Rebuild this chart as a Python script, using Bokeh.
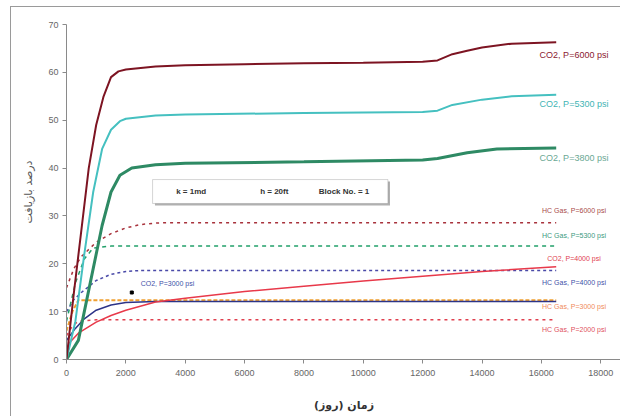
from bokeh.plotting import figure
from bokeh.models import Range1d, BoxAnnotation, Label, FixedTicker
from bokeh.embed import file_html
from bokeh.resources import INLINE

# ---------------- data ----------------
co2_6000_x = [0, 250, 500, 750, 1000, 1250, 1500, 1750, 2000, 3000, 4000, 6000, 8000, 10000, 12000, 12500, 13000, 13500, 14000, 15000, 16500]
co2_6000_y = [0, 14, 27, 40, 49, 55, 59, 60.2, 60.6, 61.2, 61.5, 61.7, 61.9, 62.0, 62.2, 62.5, 63.8, 64.5, 65.2, 66.0, 66.3]

co2_5300_x = [0, 300, 600, 900, 1200, 1500, 1800, 2000, 3000, 4000, 8000, 12000, 12500, 13000, 14000, 15000, 16500]
co2_5300_y = [0, 8, 22, 35, 44, 48, 49.8, 50.3, 51.0, 51.2, 51.5, 51.7, 52.0, 53.2, 54.3, 55.0, 55.3]

co2_3800_x = [0, 400, 800, 1200, 1500, 1800, 2200, 3000, 4000, 8000, 12000, 12500, 13500, 14500, 16500]
co2_3800_y = [0, 4, 16, 28, 35, 38.5, 40, 40.7, 41.0, 41.3, 41.7, 42.0, 43.2, 44.0, 44.2]

hc_6000_x = [0, 250, 500, 1000, 1500, 2000, 2500, 3000, 3500, 16500]
hc_6000_y = [15, 19, 21.5, 24.5, 26.3, 27.5, 28.2, 28.5, 28.6, 28.6]

hc_5300_x = [0, 300, 600, 900, 1500, 16500]
hc_5300_y = [8, 16, 21, 23.3, 23.7, 23.7]

hc_4000_x = [0, 250, 500, 1000, 1500, 2000, 2500, 16500]
hc_4000_y = [10, 12.5, 14, 16.5, 17.8, 18.4, 18.6, 18.6]

co2_4000_x = [0, 100, 400, 1000, 1500, 2000, 3000, 4000, 6000, 8000, 10000, 12000, 14000, 16500]
co2_4000_y = [0, 3.5, 5.5, 7.8, 9.2, 10.3, 12.0, 12.8, 14.2, 15.3, 16.4, 17.4, 18.4, 19.4]

hc_3000_x = [0, 200, 400, 16500]
hc_3000_y = [6, 10, 12.4, 12.4]

co2_3000_x = [0, 300, 600, 1000, 1500, 2000, 3000, 16500]
co2_3000_y = [4, 6.5, 8.5, 10.3, 11.4, 11.9, 12.1, 12.1]

hc_2000_x = [0, 200, 400, 1000, 16500]
hc_2000_y = [5, 7, 8, 8.3, 8.3]

x_ticks = [0, 2000, 4000, 6000, 8000, 10000, 12000, 14000, 16000, 18000]
y_ticks = [0, 10, 20, 30, 40, 50, 60, 70]

labels = ["CO2, P=6000 psi", "CO2, P=5300 psi", "CO2, P=3800 psi",
          "HC Gas, P=6000 psi", "HC Gas, P=5300 psi", "CO2, P=4000 psi",
          "HC Gas, P=4000 psi", "HC Gas, P=3000 psi", "HC Gas, P=2000 psi"]
box_texts = ["k = 1md", "h = 20ft", "Block No. = 1"]

# ---------------- figure ----------------
p = figure(width=610, height=410, output_backend="svg", toolbar_location=None,
           x_range=Range1d(0, 18700), y_range=Range1d(0, 70),
           min_border_left=55, min_border_right=0, min_border_top=17, min_border_bottom=58)
p.styles = {"border-left": "1px solid #9a9a9a", "border-top": "1px solid #9a9a9a",
            "margin-left": "10px", "margin-top": "6px"}
p.outline_line_color = None
p.background_fill_color = "white"

p.xgrid.visible = False
p.ygrid.ticker = FixedTicker(ticks=[70])
p.ygrid.grid_line_color = "#cfcfcf"

for ax in (p.xaxis[0], p.yaxis[0]):
    ax.axis_line_color = "#8a8a8a"
    ax.major_tick_line_color = "#8a8a8a"
    ax.major_tick_out = 4
    ax.major_tick_in = 0
    ax.minor_tick_line_color = None
    ax.major_label_text_font = "Liberation Sans"
    ax.major_label_text_font_size = "9px"
    ax.major_label_text_color = "#666666"

p.xaxis.ticker = FixedTicker(ticks=x_ticks)
p.yaxis.ticker = FixedTicker(ticks=y_ticks)
p.xaxis.major_label_standoff = 6
p.yaxis.major_label_standoff = 4

p.xaxis.axis_label = "زمان (روز)"
p.xaxis.axis_label_text_font = "DejaVu Sans"
p.xaxis.axis_label_text_font_size = "11px"
p.xaxis.axis_label_text_font_style = "bold"
p.xaxis.axis_label_text_color = "#333333"
p.xaxis.axis_label_standoff = 20

p.yaxis.axis_label = "درصد بازیافت"
p.yaxis.axis_label_text_font = "DejaVu Sans"
p.yaxis.axis_label_text_font_size = "11px"
p.yaxis.axis_label_text_font_style = "normal"
p.yaxis.axis_label_text_color = "#555555"
p.yaxis.axis_label_standoff = 10

# ---------------- series ----------------
p.line(hc_2000_x, hc_2000_y, line_color="#e0404f", line_width=1.5, line_dash="3 4")
p.line(hc_3000_x, hc_3000_y, line_color="#f0a030", line_width=2, line_dash="4 2")
p.line(hc_4000_x, hc_4000_y, line_color="#4a4aa8", line_width=1.5, line_dash="3 3")
p.line(hc_5300_x, hc_5300_y, line_color="#22a06a", line_width=1.5, line_dash="4 4")
p.line(hc_6000_x, hc_6000_y, line_color="#a8323c", line_width=1.5, line_dash="3 4")
p.line(co2_3000_x, co2_3000_y, line_color="#2c3488", line_width=1.5)
p.line(co2_4000_x, co2_4000_y, line_color="#e8394a", line_width=1.5)
p.line(co2_3800_x, co2_3800_y, line_color="#2e8a64", line_width=3)
p.line(co2_5300_x, co2_5300_y, line_color="#45c0c0", line_width=2)
p.line(co2_6000_x, co2_6000_y, line_color="#7d1422", line_width=2)

# ---------------- labels ----------------
ends = [co2_6000_y[-1], co2_5300_y[-1], co2_3800_y[-1], hc_6000_y[-1], hc_5300_y[-1],
        co2_4000_y[-1], hc_4000_y[-1], hc_3000_y[-1], hc_2000_y[-1]]
offsets = [-13, -9, -10, 12, 11, 8, -12, -6, -10]
colors = ["#8b2030", "#3fb4b4", "#6aa894", "#a84a4a", "#3a9a80", "#e04050", "#4050a8", "#f08a5a", "#e05060"]
sizes = ["9px", "9px", "9px", "7px", "7px", "7px", "7px", "7px", "7px"]
for t, yv, off, c, s in zip(labels, ends, offsets, colors, sizes):
    p.add_layout(Label(x=17100, y=yv, y_offset=off, text=t, text_color=c, text_font="Liberation Sans",
                       text_font_size=s, text_align="center", text_baseline="middle"))

# CO2, P=3000 psi label with pointer marker
p.scatter([2200], [14], marker="square", size=3, color="black")
p.add_layout(Label(x=2500, y=15.8, text="CO2, P=3000 psi", text_color="#4050a8",
                   text_font="Liberation Sans", text_font_size="7px", text_baseline="middle"))

# parameter box with shadow
p.add_layout(BoxAnnotation(left=2980, right=10900, bottom=32.2, top=37.2,
                           fill_color="#b0b0b0", fill_alpha=1, line_color=None))
p.add_layout(BoxAnnotation(left=2900, right=10830, bottom=32.6, top=37.6,
                           fill_color="white", fill_alpha=1, line_color="#777777", line_width=1))
for t, xc in zip(box_texts, [4200, 7000, 9350]):
    p.add_layout(Label(x=xc, y=35.1, text=t, text_color="#333333", text_font="Liberation Sans",
                       text_font_size="8px", text_font_style="bold", text_align="center",
                       text_baseline="middle"))

open("out.html", "w").write(file_html(p, INLINE))
